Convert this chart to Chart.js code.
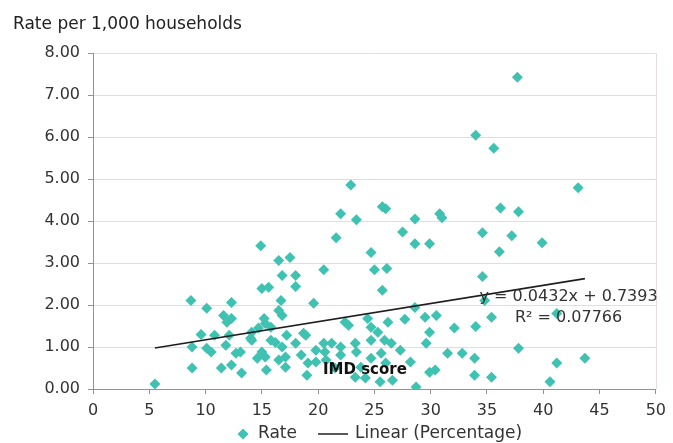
<!DOCTYPE html>
<html>
<head>
<meta charset="utf-8">
<script src="https://cdn.jsdelivr.net/npm/chart.js@4"></script>
<style>
  html, body { margin: 0; padding: 0; background: #ffffff; }
  canvas { display: block; }
</style>
</head>
<body>
<canvas id="chart" width="673" height="443"></canvas>
<script>
// IMD score (x) against rate per 1,000 households (y)
const imdScore = [
  5.5, 8.7, 9.6, 8.8, 8.8, 10.1, 10.1, 10.8, 10.5, 11.4, 11.6, 11.9, 12.3, 12.3, 11.8, 12.3, 12.7, 13.1, 13.2, 12.1,
  14.0, 14.1, 14.9, 15.0, 15.6, 16.5, 17.5, 16.7, 16.8, 18.0, 18.0, 19.6, 16.5, 16.8, 15.3, 15.8, 14.7, 15.2, 14.1, 15.0,
  15.3, 15.8, 16.2, 16.8, 17.1, 16.5, 17.1, 18.0, 18.9, 18.5, 19.1, 19.8, 15.4, 19.0, 19.8, 14.6, 17.2, 18.7,
  20.5, 21.6, 22.0, 23.4, 22.9, 24.7, 25.0, 26.1, 25.7, 25.7, 26.0, 22.4, 22.7, 20.5, 21.2, 20.6, 20.7, 22.0, 22.0, 23.3,
  23.4, 23.3, 24.2, 24.7, 24.7, 24.4, 25.3, 25.9, 26.5, 25.6, 26.0, 24.7, 23.8, 26.2, 25.5, 26.6, 27.3, 28.2, 21.5,
  27.5, 28.6, 28.6, 29.9, 30.8, 31.0, 28.6, 27.7, 29.5, 30.5, 29.9, 29.6, 32.1, 34.0, 31.5, 32.8, 33.9, 33.9, 35.4, 29.9,
  30.4, 28.7, 34.0, 35.6, 34.6, 34.6, 34.8, 35.4, 36.1, 36.2, 37.2, 37.7, 37.8, 37.8, 39.9, 40.6, 41.2, 41.2, 43.1, 43.7
];
const rate = [
  0.12, 2.11, 1.30, 1.00, 0.50, 1.92, 0.97, 1.28, 0.88, 0.50, 1.75, 1.59, 1.68, 2.06, 1.04, 0.57, 0.85, 0.88, 0.38, 1.28,
  1.21, 1.35, 3.41, 2.39, 2.42, 3.06, 3.13, 2.11, 2.70, 2.70, 2.44, 2.04, 1.87, 1.75, 1.56, 1.47, 1.45, 1.68, 1.16, 0.88,
  0.76, 1.16, 1.11, 1.00, 0.76, 0.69, 0.52, 1.09, 1.28, 0.81, 0.62, 0.92, 0.45, 0.33, 0.64, 0.73, 1.28, 1.33,
  2.84, 3.60, 4.17, 4.03, 4.86, 3.25, 2.84, 2.87, 2.35, 4.34, 4.29, 1.59, 1.52, 1.09, 1.09, 0.88, 0.69, 1.00, 0.81, 1.09,
  0.88, 0.28, 0.26, 1.47, 1.16, 1.68, 1.35, 1.16, 1.09, 0.85, 0.62, 0.73, 0.52, 1.59, 0.17, 0.21, 0.92, 0.64, 0.50,
  3.74, 4.05, 3.46, 3.46, 4.17, 4.08, 1.94, 1.66, 1.71, 1.75, 1.35, 1.09, 1.45, 1.49, 0.85, 0.85, 0.73, 0.33, 0.28, 0.40,
  0.45, 0.05, 6.04, 5.73, 3.72, 2.68, 2.11, 1.71, 3.27, 4.31, 3.65, 7.42, 4.22, 0.97, 3.48, 0.17, 0.62, 1.80, 4.79, 0.73
];

// Fitted linear trend, as printed on the chart
const trendSlope = 0.0432;
const trendIntercept = 0.7393;
const trendRSquared = '0.07766';

const xAxisRange = [0, 50, 5];   // min, max, step
const yAxisRange = [0, 8, 1];

const yTitle = 'Rate per 1,000 households';
const xTitle = 'IMD score';
const seriesName = 'Rate';
const trendName = 'Linear (Percentage)';

const MARKER = '#3fc2b1';
const GRID = '#e6dcdc';
const AXIS = '#9c8f8f';
const TEXT = '#333333';
const FONT = "'DejaVu Sans', sans-serif";

const points = imdScore.map((x, i) => ({ x: x, y: rate[i] }));
const xMin = Math.min(...imdScore);
const xMax = Math.max(...imdScore);
const trend = [xMin, xMax].map(x => ({ x: x, y: trendSlope * x + trendIntercept }));

Chart.defaults.font.family = FONT;

const annotations = {
  id: 'annotations',
  beforeDatasetsDraw(chart) {
    // thin frame line on the right edge of the plot
    const { ctx, chartArea } = chart;
    ctx.save();
    ctx.strokeStyle = GRID;
    ctx.lineWidth = 1;
    ctx.beginPath();
    ctx.moveTo(Math.round(chartArea.right) + 0.5, chartArea.top);
    ctx.lineTo(Math.round(chartArea.right) + 0.5, chartArea.bottom);
    ctx.stroke();
    ctx.restore();
  },
  afterDraw(chart) {
    const { ctx } = chart;
    const xs = chart.scales.x, ys = chart.scales.y;
    ctx.save();
    ctx.textBaseline = 'middle';

    // y-axis heading above the axis
    ctx.fillStyle = '#222222';
    ctx.font = '17px ' + FONT;
    ctx.textAlign = 'left';
    ctx.fillText(yTitle, 13, 25);

    // trend equation and R squared
    ctx.fillStyle = TEXT;
    ctx.font = '16px ' + FONT;
    ctx.textAlign = 'center';
    const ex = xs.getPixelForValue(42.25);
    ctx.fillText('y = ' + trendSlope + 'x + ' + trendIntercept, ex, ys.getPixelForValue(2.2));
    ctx.fillText('R\u00B2 = ' + trendRSquared, ex, ys.getPixelForValue(1.7));

    // x-axis heading inside the plot
    ctx.fillStyle = '#111111';
    ctx.font = 'bold 15px ' + FONT;
    ctx.textAlign = 'left';
    ctx.fillText(xTitle, 323, ys.getPixelForValue(0.45));

    // legend
    const ly = 434;
    ctx.fillStyle = MARKER;
    ctx.beginPath();
    ctx.moveTo(243, ly - 5.5); ctx.lineTo(248.5, ly); ctx.lineTo(243, ly + 5.5); ctx.lineTo(237.5, ly);
    ctx.closePath();
    ctx.fill();
    ctx.fillStyle = TEXT;
    ctx.font = '17px ' + FONT;
    ctx.fillText(seriesName, 258, ly);
    ctx.strokeStyle = '#222222';
    ctx.lineWidth = 1.5;
    ctx.beginPath();
    ctx.moveTo(318, ly); ctx.lineTo(348, ly);
    ctx.stroke();
    ctx.fillText(trendName, 355, ly);
    ctx.restore();
  }
};

new Chart(document.getElementById('chart'), {
  type: 'scatter',
  data: {
    datasets: [
      {
        label: seriesName,
        data: points,
        pointStyle: 'rectRot',
        pointRadius: 5.5,
        pointHoverRadius: 5.5,
        backgroundColor: MARKER,
        borderColor: MARKER,
        borderWidth: 0,
        order: 2
      },
      {
        type: 'line',
        label: trendName,
        data: trend,
        borderColor: '#1e1e1e',
        borderWidth: 1.6,
        pointRadius: 0,
        fill: false,
        order: 1
      }
    ]
  },
  options: {
    responsive: false,
    animation: false,
    layout: { padding: { left: 0, right: 11, top: 53, bottom: 0 } },
    plugins: { legend: { display: false }, tooltip: { enabled: false } },
    scales: {
      x: {
        type: 'linear',
        min: xAxisRange[0], max: xAxisRange[1],
        ticks: { stepSize: xAxisRange[2], color: TEXT, font: { size: 16 }, padding: 7 },
        grid: { drawOnChartArea: false, drawTicks: true, tickLength: 5, tickColor: AXIS },
        border: { color: AXIS, width: 1 },
        afterFit(scale) { scale.height = 54; }
      },
      y: {
        min: yAxisRange[0], max: yAxisRange[1],
        ticks: { stepSize: yAxisRange[2], color: TEXT, font: { size: 16 }, padding: 8,
                 callback: v => v.toFixed(2) },
        grid: { color: GRID, lineWidth: 1, drawTicks: true, tickLength: 5, tickColor: AXIS },
        border: { color: AXIS, width: 1 },
        afterFit(scale) { scale.width = 93; }
      }
    }
  },
  plugins: [annotations]
});
</script>
</body>
</html>
